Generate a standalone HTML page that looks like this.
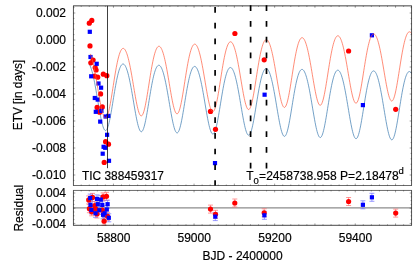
<!DOCTYPE html>
<html><head><meta charset="utf-8"><title>ETV</title>
<style>
html,body{margin:0;padding:0;background:#fff;}
svg{display:block;will-change:transform;}
text{font-family:"Liberation Sans",sans-serif;font-size:12px;fill:#000;stroke:#000;stroke-width:0.18px;}
</style></head><body>
<svg width="415" height="264" viewBox="0 0 415 264">
<rect x="0" y="0" width="415" height="264" fill="#fff"/>
<defs><clipPath id="cm"><rect x="73.45" y="5.87" width="338.10" height="179.63"/></clipPath></defs>
<g clip-path="url(#cm)" fill="none">
<path d="M89.60 64.78 L90.10 65.78 L90.60 66.96 L91.10 68.34 L91.60 69.89 L92.10 71.61 L92.60 73.51 L93.10 75.57 L93.60 77.79 L94.10 80.15 L94.60 82.65 L95.10 85.27 L95.60 87.99 L96.10 90.81 L96.60 93.69 L97.10 96.63 L97.60 99.60 L98.10 102.57 L98.60 105.52 L99.10 108.43 L99.60 111.27 L100.10 114.01 L100.60 116.62 L101.10 119.09 L101.60 121.37 L102.10 123.45 L102.60 125.30 L103.10 126.90 L103.60 128.24 L104.10 129.28 L104.60 130.03 L105.10 130.46 L105.60 130.58 L106.10 130.37 L106.60 129.84 L107.10 128.99 L107.60 127.84 L108.10 126.39 L108.60 124.66 L109.10 122.67 L109.60 120.45 L110.10 118.01 L110.60 115.39 L111.10 112.61 L111.60 109.71 L112.10 106.72 L112.60 103.66 L113.10 100.58 L113.60 97.49 L114.10 94.44 L114.60 91.44 L115.10 88.52 L115.60 85.70 L116.10 83.00 L116.60 80.45 L117.10 78.05 L117.60 75.82 L118.10 73.77 L118.60 71.90 L119.10 70.23 L119.60 68.75 L120.10 67.47 L120.60 66.39 L121.10 65.51 L121.60 64.84 L122.10 64.36 L122.60 64.08 L123.10 64.00 L123.60 64.12 L124.10 64.43 L124.60 64.93 L125.10 65.63 L125.60 66.52 L126.10 67.59 L126.60 68.86 L127.10 70.30 L127.60 71.92 L128.10 73.72 L128.60 75.68 L129.10 77.80 L129.60 80.08 L130.10 82.49 L130.60 85.04 L131.10 87.69 L131.60 90.45 L132.10 93.29 L132.60 96.20 L133.10 99.14 L133.60 102.10 L134.10 105.06 L134.60 107.99 L135.10 110.87 L135.60 113.66 L136.10 116.34 L136.60 118.89 L137.10 121.27 L137.60 123.47 L138.10 125.45 L138.60 127.19 L139.10 128.68 L139.60 129.89 L140.10 130.80 L140.60 131.41 L141.10 131.71 L141.60 131.69 L142.10 131.34 L142.60 130.68 L143.10 129.70 L143.60 128.42 L144.10 126.85 L144.60 125.01 L145.10 122.92 L145.60 120.60 L146.10 118.09 L146.60 115.40 L147.10 112.57 L147.60 109.63 L148.10 106.61 L148.60 103.55 L149.10 100.47 L149.60 97.39 L150.10 94.36 L150.60 91.40 L151.10 88.53 L151.60 85.76 L152.10 83.13 L152.60 80.65 L153.10 78.32 L153.60 76.17 L154.10 74.20 L154.60 72.41 L155.10 70.83 L155.60 69.43 L156.10 68.24 L156.60 67.25 L157.10 66.46 L157.60 65.86 L158.10 65.47 L158.60 65.28 L159.10 65.28 L159.60 65.48 L160.10 65.87 L160.60 66.46 L161.10 67.24 L161.60 68.20 L162.10 69.36 L162.60 70.69 L163.10 72.21 L163.60 73.91 L164.10 75.77 L164.60 77.80 L165.10 79.99 L165.60 82.32 L166.10 84.79 L166.60 87.38 L167.10 90.08 L167.60 92.87 L168.10 95.73 L168.60 98.65 L169.10 101.61 L169.60 104.57 L170.10 107.51 L170.60 110.42 L171.10 113.26 L171.60 116.01 L172.10 118.63 L172.60 121.11 L173.10 123.41 L173.60 125.51 L174.10 127.39 L174.60 129.03 L175.10 130.39 L175.60 131.48 L176.10 132.26 L176.60 132.74 L177.10 132.90 L177.60 132.74 L178.10 132.26 L178.60 131.46 L179.10 130.35 L179.60 128.94 L180.10 127.25 L180.60 125.30 L181.10 123.12 L181.60 120.71 L182.10 118.12 L182.60 115.37 L183.10 112.49 L183.60 109.51 L184.10 106.47 L184.60 103.40 L185.10 100.32 L185.60 97.26 L186.10 94.26 L186.60 91.33 L187.10 88.50 L187.60 85.79 L188.10 83.22 L188.60 80.80 L189.10 78.55 L189.60 76.47 L190.10 74.58 L190.60 72.88 L191.10 71.38 L191.60 70.07 L192.10 68.96 L192.60 68.05 L193.10 67.35 L193.60 66.84 L194.10 66.53 L194.60 66.42 L195.10 66.51 L195.60 66.79 L196.10 67.26 L196.60 67.93 L197.10 68.79 L197.60 69.83 L198.10 71.06 L198.60 72.48 L199.10 74.07 L199.60 75.84 L200.10 77.78 L200.60 79.87 L201.10 82.12 L201.60 84.51 L202.10 87.04 L202.60 89.68 L203.10 92.42 L203.60 95.24 L204.10 98.13 L204.60 101.07 L205.10 104.03 L205.60 106.99 L206.10 109.92 L206.60 112.80 L207.10 115.61 L207.60 118.30 L208.10 120.87 L208.60 123.28 L209.10 125.50 L209.60 127.51 L210.10 129.28 L210.60 130.81 L211.10 132.06 L211.60 133.01 L212.10 133.67 L212.60 134.01 L213.10 134.03 L213.60 133.73 L214.10 133.11 L214.60 132.18 L215.10 130.94 L215.60 129.41 L216.10 127.60 L216.60 125.54 L217.10 123.26 L217.60 120.77 L218.10 118.10 L218.60 115.29 L219.10 112.36 L219.60 109.35 L220.10 106.29 L220.60 103.20 L221.10 100.13 L221.60 97.09 L222.10 94.11 L222.60 91.22 L223.10 88.43 L223.60 85.78 L224.10 83.27 L224.60 80.92 L225.10 78.73 L225.60 76.73 L226.10 74.92 L226.60 73.30 L227.10 71.88 L227.60 70.65 L228.10 69.63 L228.60 68.81 L229.10 68.18 L229.60 67.76 L230.10 67.53 L230.60 67.51 L231.10 67.68 L231.60 68.04 L232.10 68.60 L232.60 69.35 L233.10 70.29 L233.60 71.41 L234.10 72.72 L234.60 74.22 L235.10 75.89 L235.60 77.73 L236.10 79.74 L236.60 81.90 L237.10 84.22 L237.60 86.67 L238.10 89.25 L238.60 91.94 L239.10 94.72 L239.60 97.58 L240.10 100.50 L240.60 103.45 L241.10 106.42 L241.60 109.37 L242.10 112.29 L242.60 115.15 L243.10 117.91 L243.60 120.56 L244.10 123.06 L244.60 125.40 L245.10 127.53 L245.60 129.45 L246.10 131.12 L246.60 132.53 L247.10 133.66 L247.60 134.49 L248.10 135.01 L248.60 135.22 L249.10 135.10 L249.60 134.66 L250.10 133.90 L250.60 132.83 L251.10 131.47 L251.60 129.81 L252.10 127.89 L252.60 125.73 L253.10 123.34 L253.60 120.77 L254.10 118.03 L254.60 115.16 L255.10 112.18 L255.60 109.14 L256.10 106.06 L256.60 102.96 L257.10 99.89 L257.60 96.87 L258.10 93.92 L258.60 91.06 L259.10 88.32 L259.60 85.72 L260.10 83.27 L260.60 80.99 L261.10 78.88 L261.60 76.95 L262.10 75.21 L262.60 73.67 L263.10 72.33 L263.60 71.19 L264.10 70.24 L264.60 69.50 L265.10 68.96 L265.60 68.63 L266.10 68.48 L266.60 68.54 L267.10 68.79 L267.60 69.24 L268.10 69.88 L268.60 70.71 L269.10 71.73 L269.60 72.94 L270.10 74.34 L270.60 75.91 L271.10 77.66 L271.60 79.57 L272.10 81.66 L272.60 83.89 L273.10 86.27 L273.60 88.79 L274.10 91.42 L274.60 94.16 L275.10 96.99 L275.60 99.88 L276.10 102.82 L276.60 105.79 L277.10 108.77 L277.60 111.72 L278.10 114.62 L278.60 117.45 L279.10 120.18 L279.60 122.77 L280.10 125.22 L280.60 127.47 L281.10 129.53 L281.60 131.35 L282.10 132.91 L282.60 134.21 L283.10 135.21 L283.60 135.91 L284.10 136.30 L284.60 136.37 L285.10 136.11 L285.60 135.53 L286.10 134.64 L286.60 133.43 L287.10 131.93 L287.60 130.16 L288.10 128.12 L288.60 125.85 L289.10 123.37 L289.60 120.71 L290.10 117.90 L290.60 114.97 L291.10 111.96 L291.60 108.88 L292.10 105.78 L292.60 102.68 L293.10 99.61 L293.60 96.60 L294.10 93.68 L294.60 90.86 L295.10 88.17 L295.60 85.62 L296.10 83.23 L296.60 81.01 L297.10 78.97 L297.60 77.11 L298.10 75.45 L298.60 73.99 L299.10 72.73 L299.60 71.67 L300.10 70.81 L300.60 70.15 L301.10 69.69 L301.60 69.44 L302.10 69.38 L302.60 69.52 L303.10 69.86 L303.60 70.39 L304.10 71.11 L304.60 72.03 L305.10 73.13 L305.60 74.43 L306.10 75.90 L306.60 77.55 L307.10 79.38 L307.60 81.38 L308.10 83.54 L308.60 85.85 L309.10 88.29 L309.60 90.87 L310.10 93.56 L310.60 96.35 L311.10 99.22 L311.60 102.15 L312.10 105.12 L312.60 108.11 L313.10 111.09 L313.60 114.03 L314.10 116.92 L314.60 119.72 L315.10 122.41 L315.60 124.95 L316.10 127.33 L316.60 129.51 L317.10 131.47 L317.60 133.19 L318.10 134.65 L318.60 135.83 L319.10 136.71 L319.60 137.28 L320.10 137.53 L320.60 137.46 L321.10 137.06 L321.60 136.34 L322.10 135.30 L322.60 133.97 L323.10 132.34 L323.60 130.44 L324.10 128.29 L324.60 125.91 L325.10 123.34 L325.60 120.60 L326.10 117.72 L326.60 114.73 L327.10 111.67 L327.60 108.56 L328.10 105.44 L328.60 102.34 L329.10 99.28 L329.60 96.29 L330.10 93.39 L330.60 90.61 L331.10 87.97 L331.60 85.47 L332.10 83.14 L332.60 80.98 L333.10 79.01 L333.60 77.23 L334.10 75.64 L334.60 74.26 L335.10 73.07 L335.60 72.09 L336.10 71.32 L336.60 70.74 L337.10 70.37 L337.60 70.19 L338.10 70.22 L338.60 70.44 L339.10 70.87 L339.60 71.48 L340.10 72.29 L340.60 73.29 L341.10 74.49 L341.60 75.86 L342.10 77.42 L342.60 79.16 L343.10 81.07 L343.60 83.15 L344.10 85.38 L344.60 87.77 L345.10 90.28 L345.60 92.93 L346.10 95.68 L346.60 98.52 L347.10 101.43 L347.60 104.40 L348.10 107.39 L348.60 110.39 L349.10 113.38 L349.60 116.32 L350.10 119.19 L350.60 121.96 L351.10 124.60 L351.60 127.09 L352.10 129.40 L352.60 131.50 L353.10 133.37 L353.60 134.99 L354.10 136.34 L354.60 137.40 L355.10 138.15 L355.60 138.58 L356.10 138.70 L356.60 138.48 L357.10 137.94 L357.60 137.08 L358.10 135.91 L358.60 134.43 L359.10 132.68 L359.60 130.65 L360.10 128.39 L360.60 125.91 L361.10 123.25 L361.60 120.43 L362.10 117.48 L362.60 114.43 L363.10 111.33 L363.60 108.19 L364.10 105.06 L364.60 101.95 L365.10 98.89 L365.60 95.92 L366.10 93.06 L366.60 90.31 L367.10 87.71 L367.60 85.27 L368.10 82.99 L368.60 80.90 L369.10 79.00 L369.60 77.29 L370.10 75.78 L370.60 74.47 L371.10 73.36 L371.60 72.46 L372.10 71.77 L372.60 71.27 L373.10 70.98 L373.60 70.90 L374.10 71.01 L374.60 71.32 L375.10 71.82 L375.60 72.53 L376.10 73.42 L376.60 74.51 L377.10 75.79 L377.60 77.26 L378.10 78.91 L378.60 80.73 L379.10 82.73 L379.60 84.88 L380.10 87.20 L380.60 89.66 L381.10 92.25 L381.60 94.95 L382.10 97.76 L382.60 100.66 L383.10 103.61 L383.60 106.62 L384.10 109.64 L384.60 112.66 L385.10 115.64 L385.60 118.58 L386.10 121.42 L386.60 124.16 L387.10 126.76 L387.60 129.19 L388.10 131.43 L388.60 133.45 L389.10 135.23 L389.60 136.74 L390.10 137.98 L390.60 138.91 L391.10 139.53 L391.60 139.83 L392.10 139.80 L392.60 139.45 L393.10 138.76 L393.60 137.76 L394.10 136.44 L394.60 134.83 L395.10 132.95 L395.60 130.80 L396.10 128.43 L396.60 125.84 L397.10 123.09 L397.60 120.19 L398.10 117.17 L398.60 114.07 L399.10 110.93 L399.60 107.76 L400.10 104.61 L400.60 101.50 L401.10 98.45 L401.60 95.50 L402.10 92.66 L402.60 89.96 L403.10 87.40 L403.60 85.01 L404.10 82.80 L404.60 80.77 L405.10 78.93 L405.60 77.29 L406.10 75.86 L406.60 74.63 L407.10 73.60 L407.60 72.78 L408.10 72.16 L408.60 71.75 L409.10 71.55 L409.60 71.54 L410.10 71.74 L410.60 72.14 L411.10 72.73 L411.60 73.52 L412.10 74.51" stroke="#4682b4" stroke-width="0.75"/>
</g>
<g>
<rect x="87.70" y="29.70" width="4.2" height="4.2" fill="#00f"/><circle cx="89.30" cy="23.20" r="2.6" fill="#f00"/><circle cx="91.80" cy="20.40" r="2.6" fill="#f00"/><circle cx="90.00" cy="45.90" r="2.6" fill="#f00"/><rect x="88.40" y="54.90" width="4.2" height="4.2" fill="#00f"/><circle cx="93.10" cy="60.00" r="2.6" fill="#f00"/><circle cx="90.80" cy="62.80" r="2.6" fill="#f00"/><circle cx="95.20" cy="67.50" r="2.6" fill="#f00"/><circle cx="96.10" cy="70.00" r="2.6" fill="#f00"/><rect x="94.60" y="61.70" width="4.2" height="4.2" fill="#00f"/><circle cx="94.60" cy="76.10" r="2.6" fill="#f00"/><circle cx="97.70" cy="77.20" r="2.6" fill="#f00"/><rect x="89.10" y="74.20" width="4.2" height="4.2" fill="#00f"/><circle cx="103.30" cy="74.20" r="2.6" fill="#f00"/><circle cx="106.80" cy="75.70" r="2.6" fill="#f00"/><rect x="96.40" y="81.40" width="4.2" height="4.2" fill="#00f"/><rect x="99.00" y="85.60" width="4.2" height="4.2" fill="#00f"/><circle cx="100.60" cy="93.90" r="2.6" fill="#f00"/><rect x="92.70" y="95.90" width="4.2" height="4.2" fill="#00f"/><rect x="95.60" y="97.50" width="4.2" height="4.2" fill="#00f"/><circle cx="97.10" cy="107.40" r="2.6" fill="#f00"/><circle cx="102.30" cy="106.90" r="2.6" fill="#f00"/><circle cx="99.60" cy="112.20" r="2.6" fill="#f00"/><rect x="93.70" y="109.70" width="4.2" height="4.2" fill="#00f"/><rect x="99.30" y="108.80" width="4.2" height="4.2" fill="#00f"/><rect x="103.50" y="114.40" width="4.2" height="4.2" fill="#00f"/><rect x="106.20" y="113.80" width="4.2" height="4.2" fill="#00f"/><rect x="98.10" y="119.50" width="4.2" height="4.2" fill="#00f"/><rect x="105.00" y="132.70" width="4.2" height="4.2" fill="#00f"/><circle cx="105.60" cy="141.70" r="2.6" fill="#f00"/><circle cx="108.50" cy="144.20" r="2.6" fill="#f00"/><rect x="101.50" y="144.70" width="4.2" height="4.2" fill="#00f"/><rect x="103.10" y="145.70" width="4.2" height="4.2" fill="#00f"/><rect x="100.60" y="151.60" width="4.2" height="4.2" fill="#00f"/><circle cx="104.20" cy="162.40" r="2.6" fill="#f00"/><rect x="106.90" y="158.70" width="4.2" height="4.2" fill="#00f"/><circle cx="210.50" cy="111.40" r="2.6" fill="#f00"/><circle cx="215.50" cy="129.30" r="2.6" fill="#f00"/><rect x="212.90" y="161.00" width="4.2" height="4.2" fill="#00f"/><circle cx="234.90" cy="33.50" r="2.6" fill="#f00"/><circle cx="264.20" cy="59.80" r="2.6" fill="#f00"/><rect x="262.50" y="92.60" width="4.2" height="4.2" fill="#00f"/><circle cx="348.60" cy="51.00" r="2.6" fill="#f00"/><rect x="369.80" y="33.20" width="4.2" height="4.2" fill="#00f"/><rect x="360.80" y="103.00" width="4.2" height="4.2" fill="#00f"/><circle cx="395.70" cy="109.30" r="2.6" fill="#f00"/>
</g>
<g clip-path="url(#cm)" fill="none">
<path d="M90.30 53.86 L90.80 55.10 L91.30 56.52 L91.80 58.12 L92.30 59.91 L92.80 61.86 L93.30 63.98 L93.80 66.25 L94.30 68.66 L94.80 71.21 L95.30 73.88 L95.80 76.65 L96.30 79.50 L96.80 82.42 L97.30 85.38 L97.80 88.36 L98.30 91.34 L98.80 94.29 L99.30 97.19 L99.80 100.00 L100.30 102.70 L100.80 105.26 L101.30 107.65 L101.80 109.86 L102.30 111.84 L102.80 113.59 L103.30 115.07 L103.80 116.27 L104.30 117.17 L104.80 117.75 L105.30 118.02 L105.80 117.96 L106.30 117.57 L106.80 116.85 L107.30 115.82 L107.80 114.47 L108.30 112.83 L108.80 110.91 L109.30 108.73 L109.80 106.32 L110.30 103.71 L110.80 100.92 L111.30 97.98 L111.80 94.93 L112.30 91.80 L112.80 88.62 L113.30 85.42 L113.80 82.23 L114.30 79.09 L114.80 76.00 L115.30 73.01 L115.80 70.14 L116.30 67.39 L116.80 64.80 L117.30 62.37 L117.80 60.12 L118.30 58.05 L118.80 56.17 L119.30 54.49 L119.80 53.02 L120.30 51.74 L120.80 50.67 L121.30 49.81 L121.80 49.15 L122.30 48.70 L122.80 48.45 L123.30 48.40 L123.80 48.55 L124.30 48.90 L124.80 49.44 L125.30 50.18 L125.80 51.12 L126.30 52.25 L126.80 53.56 L127.30 55.07 L127.80 56.75 L128.30 58.60 L128.80 60.63 L129.30 62.81 L129.80 65.15 L130.30 67.62 L130.80 70.22 L131.30 72.94 L131.80 75.74 L132.30 78.63 L132.80 81.57 L133.30 84.54 L133.80 87.53 L134.30 90.49 L134.80 93.42 L135.30 96.28 L135.80 99.05 L136.30 101.69 L136.80 104.19 L137.30 106.50 L137.80 108.62 L138.30 110.50 L138.80 112.13 L139.30 113.50 L139.80 114.57 L140.30 115.33 L140.80 115.79 L141.30 115.91 L141.80 115.71 L142.30 115.18 L142.80 114.33 L143.30 113.15 L143.80 111.68 L144.30 109.91 L144.80 107.88 L145.30 105.60 L145.80 103.10 L146.30 100.41 L146.80 97.55 L147.30 94.56 L147.80 91.47 L148.30 88.32 L148.80 85.12 L149.30 81.93 L149.80 78.75 L150.30 75.63 L150.80 72.58 L151.30 69.64 L151.80 66.82 L152.30 64.14 L152.80 61.61 L153.30 59.26 L153.80 57.08 L154.30 55.10 L154.80 53.30 L155.30 51.71 L155.80 50.32 L156.30 49.14 L156.80 48.16 L157.30 47.38 L157.80 46.81 L158.30 46.44 L158.80 46.28 L159.30 46.31 L159.80 46.55 L160.30 46.98 L160.80 47.62 L161.30 48.44 L161.80 49.46 L162.30 50.67 L162.80 52.07 L163.30 53.64 L163.80 55.40 L164.30 57.33 L164.80 59.43 L165.30 61.68 L165.80 64.07 L166.30 66.60 L166.80 69.26 L167.30 72.01 L167.80 74.85 L168.30 77.76 L168.80 80.72 L169.30 83.70 L169.80 86.68 L170.30 89.64 L170.80 92.54 L171.30 95.37 L171.80 98.08 L172.30 100.67 L172.80 103.09 L173.30 105.32 L173.80 107.33 L174.30 109.11 L174.80 110.63 L175.30 111.87 L175.80 112.81 L176.30 113.45 L176.80 113.76 L177.30 113.74 L177.80 113.40 L178.30 112.73 L178.80 111.74 L179.30 110.43 L179.80 108.83 L180.30 106.95 L180.80 104.81 L181.30 102.43 L181.80 99.84 L182.30 97.07 L182.80 94.16 L183.30 91.12 L183.80 88.00 L184.30 84.82 L184.80 81.63 L185.30 78.43 L185.80 75.28 L186.30 72.19 L186.80 69.18 L187.30 66.29 L187.80 63.53 L188.30 60.91 L188.80 58.46 L189.30 56.18 L189.80 54.08 L190.30 52.18 L190.80 50.47 L191.30 48.97 L191.80 47.66 L192.30 46.57 L192.80 45.67 L193.30 44.99 L193.80 44.50 L194.30 44.22 L194.80 44.15 L195.30 44.26 L195.80 44.58 L196.30 45.10 L196.80 45.81 L197.30 46.72 L197.80 47.82 L198.30 49.10 L198.80 50.58 L199.30 52.23 L199.80 54.06 L200.30 56.06 L200.80 58.22 L201.30 60.54 L201.80 62.99 L202.30 65.58 L202.80 68.27 L203.30 71.07 L203.80 73.94 L204.30 76.88 L204.80 79.85 L205.30 82.83 L205.80 85.81 L206.30 88.75 L206.80 91.62 L207.30 94.41 L207.80 97.07 L208.30 99.59 L208.80 101.93 L209.30 104.08 L209.80 106.00 L210.30 107.67 L210.80 109.07 L211.30 110.19 L211.80 111.00 L212.30 111.50 L212.80 111.67 L213.30 111.51 L213.80 111.03 L214.30 110.22 L214.80 109.09 L215.30 107.65 L215.80 105.92 L216.30 103.92 L216.80 101.67 L217.30 99.19 L217.80 96.52 L218.30 93.68 L218.80 90.70 L219.30 87.61 L219.80 84.45 L220.30 81.26 L220.80 78.05 L221.30 74.86 L221.80 71.72 L222.30 68.65 L222.80 65.68 L223.30 62.83 L223.80 60.12 L224.30 57.56 L224.80 55.17 L225.30 52.96 L225.80 50.94 L226.30 49.11 L226.80 47.48 L227.30 46.06 L227.80 44.84 L228.30 43.82 L228.80 43.01 L229.30 42.41 L229.80 42.01 L230.30 41.81 L230.80 41.82 L231.30 42.02 L231.80 42.43 L232.30 43.03 L232.80 43.83 L233.30 44.82 L233.80 46.01 L234.30 47.38 L234.80 48.94 L235.30 50.67 L235.80 52.58 L236.30 54.66 L236.80 56.90 L237.30 59.28 L237.80 61.80 L238.30 64.45 L238.80 67.20 L239.30 70.04 L239.80 72.95 L240.30 75.91 L240.80 78.90 L241.30 81.90 L241.80 84.87 L242.30 87.80 L242.80 90.64 L243.30 93.39 L243.80 96.00 L244.30 98.46 L244.80 100.73 L245.30 102.79 L245.80 104.61 L246.30 106.17 L246.80 107.46 L247.30 108.45 L247.80 109.13 L248.30 109.49 L248.80 109.52 L249.30 109.22 L249.80 108.59 L250.30 107.64 L250.80 106.38 L251.30 104.81 L251.80 102.95 L252.30 100.84 L252.80 98.48 L253.30 95.91 L253.80 93.15 L254.30 90.24 L254.80 87.21 L255.30 84.08 L255.80 80.90 L256.30 77.69 L256.80 74.48 L257.30 71.31 L257.80 68.19 L258.30 65.16 L258.80 62.24 L259.30 59.45 L259.80 56.80 L260.30 54.31 L260.80 52.00 L261.30 49.87 L261.80 47.94 L262.30 46.20 L262.80 44.66 L263.30 43.33 L263.80 42.20 L264.30 41.28 L264.80 40.56 L265.30 40.05 L265.80 39.74 L266.30 39.64 L266.80 39.74 L267.30 40.03 L267.80 40.53 L268.30 41.22 L268.80 42.11 L269.30 43.19 L269.80 44.46 L270.30 45.92 L270.80 47.56 L271.30 49.37 L271.80 51.36 L272.30 53.51 L272.80 55.82 L273.30 58.26 L273.80 60.84 L274.30 63.53 L274.80 66.33 L275.30 69.20 L275.80 72.14 L276.30 75.12 L276.80 78.11 L277.30 81.10 L277.80 84.05 L278.30 86.94 L278.80 89.75 L279.30 92.44 L279.80 94.98 L280.30 97.36 L280.80 99.54 L281.30 101.49 L281.80 103.20 L282.30 104.65 L282.80 105.80 L283.30 106.66 L283.80 107.20 L284.30 107.42 L284.80 107.31 L285.30 106.87 L285.80 106.11 L286.30 105.02 L286.80 103.62 L287.30 101.94 L287.80 99.97 L288.30 97.75 L288.80 95.31 L289.30 92.66 L289.80 89.84 L290.30 86.88 L290.80 83.81 L291.30 80.66 L291.80 77.47 L292.30 74.27 L292.80 71.08 L293.30 67.93 L293.80 64.86 L294.30 61.88 L294.80 59.02 L295.30 56.30 L295.80 53.72 L296.30 51.32 L296.80 49.09 L297.30 47.05 L297.80 45.20 L298.30 43.55 L298.80 42.10 L299.30 40.86 L299.80 39.83 L300.30 38.99 L300.80 38.37 L301.30 37.95 L301.80 37.73 L302.30 37.71 L302.80 37.89 L303.30 38.27 L303.80 38.85 L304.30 39.63 L304.80 40.60 L305.30 41.76 L305.80 43.10 L306.30 44.64 L306.80 46.35 L307.30 48.23 L307.80 50.29 L308.30 52.50 L308.80 54.86 L309.30 57.36 L309.80 59.98 L310.30 62.71 L310.80 65.54 L311.30 68.43 L311.80 71.38 L312.30 74.36 L312.80 77.35 L313.30 80.31 L313.80 83.24 L314.30 86.09 L314.80 88.84 L315.30 91.46 L315.80 93.93 L316.30 96.22 L316.80 98.30 L317.30 100.15 L317.80 101.75 L318.30 103.06 L318.80 104.09 L319.30 104.81 L319.80 105.22 L320.30 105.29 L320.80 105.04 L321.30 104.46 L321.80 103.56 L322.30 102.34 L322.80 100.82 L323.30 99.02 L323.80 96.95 L324.30 94.63 L324.80 92.10 L325.30 89.39 L325.80 86.51 L326.30 83.51 L326.80 80.41 L327.30 77.25 L327.80 74.06 L328.30 70.87 L328.80 67.70 L329.30 64.60 L329.80 61.57 L330.30 58.65 L330.80 55.85 L331.30 53.20 L331.80 50.71 L332.30 48.38 L332.80 46.24 L333.30 44.29 L333.80 42.53 L334.30 40.98 L334.80 39.62 L335.30 38.48 L335.80 37.53 L336.30 36.79 L336.80 36.26 L337.30 35.92 L337.80 35.79 L338.30 35.86 L338.80 36.13 L339.30 36.60 L339.80 37.26 L340.30 38.12 L340.80 39.17 L341.30 40.40 L341.80 41.83 L342.30 43.43 L342.80 45.22 L343.30 47.17 L343.80 49.29 L344.30 51.56 L344.80 53.97 L345.30 56.52 L345.80 59.18 L346.30 61.94 L346.80 64.79 L347.30 67.70 L347.80 70.66 L348.30 73.63 L348.80 76.60 L349.30 79.54 L349.80 82.43 L350.30 85.23 L350.80 87.92 L351.30 90.47 L351.80 92.86 L352.30 95.05 L352.80 97.03 L353.30 98.76 L353.80 100.24 L354.30 101.43 L354.80 102.32 L355.30 102.90 L355.80 103.17 L356.30 103.10 L356.80 102.71 L357.30 102.00 L357.80 100.96 L358.30 99.62 L358.80 97.98 L359.30 96.06 L359.80 93.89 L360.30 91.49 L360.80 88.89 L361.30 86.11 L361.80 83.19 L362.30 80.15 L362.80 77.04 L363.30 73.87 L363.80 70.69 L364.30 67.52 L364.80 64.39 L365.30 61.32 L365.80 58.35 L366.30 55.49 L366.80 52.77 L367.30 50.19 L367.80 47.78 L368.30 45.54 L368.80 43.49 L369.30 41.63 L369.80 39.96 L370.30 38.50 L370.80 37.24 L371.30 36.18 L371.80 35.33 L372.30 34.68 L372.80 34.23 L373.30 33.99 L373.80 33.94 L374.30 34.09 L374.80 34.44 L375.30 34.99 L375.80 35.73 L376.30 36.66 L376.80 37.78 L377.30 39.09 L377.80 40.59 L378.30 42.26 L378.80 44.11 L379.30 46.12 L379.80 48.29 L380.30 50.62 L380.80 53.08 L381.30 55.67 L381.80 58.36 L382.30 61.16 L382.80 64.02 L383.30 66.95 L383.80 69.90 L384.30 72.87 L384.80 75.82 L385.30 78.73 L385.80 81.58 L386.30 84.32 L386.80 86.95 L387.30 89.43 L387.80 91.73 L388.30 93.83 L388.80 95.70 L389.30 97.32 L389.80 98.67 L390.30 99.73 L390.80 100.49 L391.30 100.93 L391.80 101.06 L392.30 100.85 L392.80 100.32 L393.30 99.47 L393.80 98.30 L394.30 96.83 L394.80 95.07 L395.30 93.05 L395.80 90.78 L396.30 88.29 L396.80 85.61 L397.30 82.77 L397.80 79.80 L398.30 76.73 L398.80 73.59 L399.30 70.41 L399.80 67.23 L400.30 64.08 L400.80 60.98 L401.30 57.95 L401.80 55.02 L402.30 52.22 L402.80 49.56 L403.30 47.05 L403.80 44.71 L404.30 42.55 L404.80 40.57 L405.30 38.79 L405.80 37.21 L406.30 35.83 L406.80 34.65 L407.30 33.68 L407.80 32.91 L408.30 32.35 L408.80 31.98 L409.30 31.82 L409.80 31.86 L410.30 32.10 L410.80 32.53 L411.30 33.16 L411.80 33.98 L412.30 35.00" stroke="#ff5a3c" stroke-width="0.7"/>
</g>
<line x1="107.5" y1="5.87" x2="107.5" y2="168.2" stroke="#000" stroke-width="0.75"/>
<line x1="215.1" y1="7.1" x2="215.1" y2="185.5" stroke="#000" stroke-width="1.7" stroke-dasharray="5.7 10.03"/>
<line x1="250.6" y1="5.35" x2="250.6" y2="169" stroke="#000" stroke-width="1.7" stroke-dasharray="5.7 10.05"/>
<line x1="266.5" y1="5.35" x2="266.5" y2="169" stroke="#000" stroke-width="1.7" stroke-dasharray="5.7 10.05"/>
<line x1="73.45" y1="207.9" x2="411.55" y2="207.9" stroke="#8c8c8c" stroke-width="1.3"/>
<path d="M106.50 192.30V200.30M104.00 192.30h5M104.00 200.30h5" stroke="#ff6a6a" stroke-width="0.7" fill="none"/><path d="M103.10 192.90V200.90M100.60 192.90h5M100.60 200.90h5" stroke="#ff6a6a" stroke-width="0.7" fill="none"/><path d="M88.70 195.90V203.90M86.20 195.90h5M86.20 203.90h5" stroke="#ff6a6a" stroke-width="0.7" fill="none"/><path d="M92.50 193.40V201.40M90.00 193.40h5M90.00 201.40h5" stroke="#ff6a6a" stroke-width="0.7" fill="none"/><path d="M94.70 201.70V209.70M92.20 201.70h5M92.20 209.70h5" stroke="#ff6a6a" stroke-width="0.7" fill="none"/><path d="M97.00 210.00V218.00M94.50 210.00h5M94.50 218.00h5" stroke="#ff6a6a" stroke-width="0.7" fill="none"/><path d="M104.10 217.20V225.20M101.60 217.20h5M101.60 225.20h5" stroke="#ff6a6a" stroke-width="0.7" fill="none"/><path d="M89.40 204.70V212.70M86.90 204.70h5M86.90 212.70h5" stroke="#ff6a6a" stroke-width="0.7" fill="none"/><path d="M95.60 204.90V212.90M93.10 204.90h5M93.10 212.90h5" stroke="#ff6a6a" stroke-width="0.7" fill="none"/><path d="M102.30 206.20V214.20M99.80 206.20h5M99.80 214.20h5" stroke="#ff6a6a" stroke-width="0.7" fill="none"/><path d="M107.60 212.30V220.30M105.10 212.30h5M105.10 220.30h5" stroke="#ff6a6a" stroke-width="0.7" fill="none"/><path d="M91.70 207.80V215.80M89.20 207.80h5M89.20 215.80h5" stroke="#ff6a6a" stroke-width="0.7" fill="none"/><path d="M90.20 194.10V202.10M87.70 194.10h5M87.70 202.10h5" stroke="#7070ff" stroke-width="0.7" fill="none"/><path d="M97.00 194.90V202.90M94.50 194.90h5M94.50 202.90h5" stroke="#7070ff" stroke-width="0.7" fill="none"/><path d="M100.80 195.60V203.60M98.30 195.60h5M98.30 203.60h5" stroke="#7070ff" stroke-width="0.7" fill="none"/><path d="M90.50 200.90V208.90M88.00 200.90h5M88.00 208.90h5" stroke="#7070ff" stroke-width="0.7" fill="none"/><path d="M97.80 200.20V208.20M95.30 200.20h5M95.30 208.20h5" stroke="#7070ff" stroke-width="0.7" fill="none"/><path d="M102.30 200.90V208.90M99.80 200.90h5M99.80 208.90h5" stroke="#7070ff" stroke-width="0.7" fill="none"/><path d="M107.60 200.20V208.20M105.10 200.20h5M105.10 208.20h5" stroke="#7070ff" stroke-width="0.7" fill="none"/><path d="M91.40 205.90V213.90M88.90 205.90h5M88.90 213.90h5" stroke="#7070ff" stroke-width="0.7" fill="none"/><path d="M99.30 206.20V214.20M96.80 206.20h5M96.80 214.20h5" stroke="#7070ff" stroke-width="0.7" fill="none"/><path d="M106.80 205.50V213.50M104.30 205.50h5M104.30 213.50h5" stroke="#7070ff" stroke-width="0.7" fill="none"/><path d="M95.50 209.30V217.30M93.00 209.30h5M93.00 217.30h5" stroke="#7070ff" stroke-width="0.7" fill="none"/><path d="M103.10 210.80V218.80M100.60 210.80h5M100.60 218.80h5" stroke="#7070ff" stroke-width="0.7" fill="none"/><path d="M104.60 209.30V217.30M102.10 209.30h5M102.10 217.30h5" stroke="#7070ff" stroke-width="0.7" fill="none"/><path d="M108.80 213.80V221.80M106.30 213.80h5M106.30 221.80h5" stroke="#7070ff" stroke-width="0.7" fill="none"/><path d="M210.50 205.10V213.10M208.00 205.10h5M208.00 213.10h5" stroke="#ff6a6a" stroke-width="0.7" fill="none"/><path d="M215.50 210.30V218.30M213.00 210.30h5M213.00 218.30h5" stroke="#ff6a6a" stroke-width="0.7" fill="none"/><path d="M215.30 212.60V220.60M212.80 212.60h5M212.80 220.60h5" stroke="#7070ff" stroke-width="0.7" fill="none"/><path d="M234.80 199.00V207.00M232.30 199.00h5M232.30 207.00h5" stroke="#ff6a6a" stroke-width="0.7" fill="none"/><path d="M264.20 208.80V216.80M261.70 208.80h5M261.70 216.80h5" stroke="#ff6a6a" stroke-width="0.7" fill="none"/><path d="M264.40 211.30V219.30M261.90 211.30h5M261.90 219.30h5" stroke="#7070ff" stroke-width="0.7" fill="none"/><path d="M348.60 197.50V205.50M346.10 197.50h5M346.10 205.50h5" stroke="#ff6a6a" stroke-width="0.7" fill="none"/><path d="M362.90 200.80V208.80M360.40 200.80h5M360.40 208.80h5" stroke="#7070ff" stroke-width="0.7" fill="none"/><path d="M371.90 193.30V201.30M369.40 193.30h5M369.40 201.30h5" stroke="#7070ff" stroke-width="0.7" fill="none"/><path d="M395.70 209.10V217.10M393.20 209.10h5M393.20 217.10h5" stroke="#ff6a6a" stroke-width="0.7" fill="none"/>
<g>
<circle cx="106.50" cy="196.30" r="2.6" fill="#f00"/><circle cx="103.10" cy="196.90" r="2.6" fill="#f00"/><circle cx="88.70" cy="199.90" r="2.6" fill="#f00"/><circle cx="92.50" cy="197.40" r="2.6" fill="#f00"/><circle cx="94.70" cy="205.70" r="2.6" fill="#f00"/><circle cx="97.00" cy="214.00" r="2.6" fill="#f00"/><circle cx="104.10" cy="221.20" r="2.6" fill="#f00"/><circle cx="89.40" cy="208.70" r="2.6" fill="#f00"/><circle cx="95.60" cy="208.90" r="2.6" fill="#f00"/><circle cx="102.30" cy="210.20" r="2.6" fill="#f00"/><circle cx="107.60" cy="216.30" r="2.6" fill="#f00"/><circle cx="91.70" cy="211.80" r="2.6" fill="#f00"/><rect x="88.10" y="196.00" width="4.2" height="4.2" fill="#00f"/><rect x="94.90" y="196.80" width="4.2" height="4.2" fill="#00f"/><rect x="98.70" y="197.50" width="4.2" height="4.2" fill="#00f"/><rect x="88.40" y="202.80" width="4.2" height="4.2" fill="#00f"/><rect x="95.70" y="202.10" width="4.2" height="4.2" fill="#00f"/><rect x="100.20" y="202.80" width="4.2" height="4.2" fill="#00f"/><rect x="105.50" y="202.10" width="4.2" height="4.2" fill="#00f"/><rect x="89.30" y="207.80" width="4.2" height="4.2" fill="#00f"/><rect x="97.20" y="208.10" width="4.2" height="4.2" fill="#00f"/><rect x="104.70" y="207.40" width="4.2" height="4.2" fill="#00f"/><rect x="93.40" y="211.20" width="4.2" height="4.2" fill="#00f"/><rect x="101.00" y="212.70" width="4.2" height="4.2" fill="#00f"/><rect x="102.50" y="211.20" width="4.2" height="4.2" fill="#00f"/><rect x="106.70" y="215.70" width="4.2" height="4.2" fill="#00f"/><circle cx="210.50" cy="209.10" r="2.6" fill="#f00"/><circle cx="215.50" cy="214.30" r="2.6" fill="#f00"/><rect x="213.20" y="214.50" width="4.2" height="4.2" fill="#00f"/><circle cx="234.80" cy="203.00" r="2.6" fill="#f00"/><circle cx="264.20" cy="212.80" r="2.6" fill="#f00"/><rect x="262.30" y="213.20" width="4.2" height="4.2" fill="#00f"/><circle cx="348.60" cy="201.50" r="2.6" fill="#f00"/><rect x="360.80" y="202.70" width="4.2" height="4.2" fill="#00f"/><rect x="369.80" y="195.20" width="4.2" height="4.2" fill="#00f"/><circle cx="395.70" cy="213.10" r="2.6" fill="#f00"/>
</g>
<line x1="73.12" y1="5.87" x2="411.88" y2="5.87" stroke="#000" stroke-width="0.75"/>
<line x1="73.12" y1="185.50" x2="411.88" y2="185.50" stroke="#000" stroke-width="0.58"/>
<line x1="73.12" y1="190.45" x2="411.88" y2="190.45" stroke="#000" stroke-width="0.58"/>
<line x1="73.12" y1="225.30" x2="411.88" y2="225.30" stroke="#000" stroke-width="0.72"/>
<line x1="73.45" y1="5.87" x2="73.45" y2="185.50" stroke="#000" stroke-width="0.67"/>
<line x1="411.55" y1="5.87" x2="411.55" y2="185.50" stroke="#000" stroke-width="0.67"/>
<line x1="73.45" y1="190.45" x2="73.45" y2="225.30" stroke="#000" stroke-width="0.67"/>
<line x1="411.55" y1="190.45" x2="411.55" y2="225.30" stroke="#000" stroke-width="0.67"/>
<path d="M81.21 5.87v1.00M81.21 185.50v-1.00M81.21 190.45v1.00M81.21 225.30v-1.00M89.27 5.87v1.00M89.27 185.50v-1.00M89.27 190.45v1.00M89.27 225.30v-1.00M97.33 5.87v1.00M97.33 185.50v-1.00M97.33 190.45v1.00M97.33 225.30v-1.00M105.39 5.87v1.00M105.39 185.50v-1.00M105.39 190.45v1.00M105.39 225.30v-1.00M113.45 5.87v1.90M113.45 185.50v-1.90M113.45 190.45v1.90M113.45 225.30v-1.90M121.51 5.87v1.00M121.51 185.50v-1.00M121.51 190.45v1.00M121.51 225.30v-1.00M129.57 5.87v1.00M129.57 185.50v-1.00M129.57 190.45v1.00M129.57 225.30v-1.00M137.63 5.87v1.00M137.63 185.50v-1.00M137.63 190.45v1.00M137.63 225.30v-1.00M145.69 5.87v1.00M145.69 185.50v-1.00M145.69 190.45v1.00M145.69 225.30v-1.00M153.75 5.87v1.90M153.75 185.50v-1.90M153.75 190.45v1.90M153.75 225.30v-1.90M161.81 5.87v1.00M161.81 185.50v-1.00M161.81 190.45v1.00M161.81 225.30v-1.00M169.87 5.87v1.00M169.87 185.50v-1.00M169.87 190.45v1.00M169.87 225.30v-1.00M177.93 5.87v1.00M177.93 185.50v-1.00M177.93 190.45v1.00M177.93 225.30v-1.00M185.99 5.87v1.00M185.99 185.50v-1.00M185.99 190.45v1.00M185.99 225.30v-1.00M194.05 5.87v1.90M194.05 185.50v-1.90M194.05 190.45v1.90M194.05 225.30v-1.90M202.11 5.87v1.00M202.11 185.50v-1.00M202.11 190.45v1.00M202.11 225.30v-1.00M210.17 5.87v1.00M210.17 185.50v-1.00M210.17 190.45v1.00M210.17 225.30v-1.00M218.23 5.87v1.00M218.23 185.50v-1.00M218.23 190.45v1.00M218.23 225.30v-1.00M226.29 5.87v1.00M226.29 185.50v-1.00M226.29 190.45v1.00M226.29 225.30v-1.00M234.35 5.87v1.90M234.35 185.50v-1.90M234.35 190.45v1.90M234.35 225.30v-1.90M242.41 5.87v1.00M242.41 185.50v-1.00M242.41 190.45v1.00M242.41 225.30v-1.00M250.47 5.87v1.00M250.47 185.50v-1.00M250.47 190.45v1.00M250.47 225.30v-1.00M258.53 5.87v1.00M258.53 185.50v-1.00M258.53 190.45v1.00M258.53 225.30v-1.00M266.59 5.87v1.00M266.59 185.50v-1.00M266.59 190.45v1.00M266.59 225.30v-1.00M274.65 5.87v1.90M274.65 185.50v-1.90M274.65 190.45v1.90M274.65 225.30v-1.90M282.71 5.87v1.00M282.71 185.50v-1.00M282.71 190.45v1.00M282.71 225.30v-1.00M290.77 5.87v1.00M290.77 185.50v-1.00M290.77 190.45v1.00M290.77 225.30v-1.00M298.83 5.87v1.00M298.83 185.50v-1.00M298.83 190.45v1.00M298.83 225.30v-1.00M306.89 5.87v1.00M306.89 185.50v-1.00M306.89 190.45v1.00M306.89 225.30v-1.00M314.95 5.87v1.90M314.95 185.50v-1.90M314.95 190.45v1.90M314.95 225.30v-1.90M323.01 5.87v1.00M323.01 185.50v-1.00M323.01 190.45v1.00M323.01 225.30v-1.00M331.07 5.87v1.00M331.07 185.50v-1.00M331.07 190.45v1.00M331.07 225.30v-1.00M339.13 5.87v1.00M339.13 185.50v-1.00M339.13 190.45v1.00M339.13 225.30v-1.00M347.19 5.87v1.00M347.19 185.50v-1.00M347.19 190.45v1.00M347.19 225.30v-1.00M355.25 5.87v1.90M355.25 185.50v-1.90M355.25 190.45v1.90M355.25 225.30v-1.90M363.31 5.87v1.00M363.31 185.50v-1.00M363.31 190.45v1.00M363.31 225.30v-1.00M371.37 5.87v1.00M371.37 185.50v-1.00M371.37 190.45v1.00M371.37 225.30v-1.00M379.43 5.87v1.00M379.43 185.50v-1.00M379.43 190.45v1.00M379.43 225.30v-1.00M387.49 5.87v1.00M387.49 185.50v-1.00M387.49 190.45v1.00M387.49 225.30v-1.00M395.55 5.87v1.90M395.55 185.50v-1.90M395.55 190.45v1.90M395.55 225.30v-1.90M403.61 5.87v1.00M403.61 185.50v-1.00M403.61 190.45v1.00M403.61 225.30v-1.00M73.45 180.40h1.00M411.55 180.40h-1.00M73.45 175.00h1.90M411.55 175.00h-1.90M73.45 169.60h1.00M411.55 169.60h-1.00M73.45 164.20h1.00M411.55 164.20h-1.00M73.45 158.80h1.00M411.55 158.80h-1.00M73.45 153.40h1.00M411.55 153.40h-1.00M73.45 148.00h1.90M411.55 148.00h-1.90M73.45 142.60h1.00M411.55 142.60h-1.00M73.45 137.20h1.00M411.55 137.20h-1.00M73.45 131.80h1.00M411.55 131.80h-1.00M73.45 126.40h1.00M411.55 126.40h-1.00M73.45 121.00h1.90M411.55 121.00h-1.90M73.45 115.60h1.00M411.55 115.60h-1.00M73.45 110.20h1.00M411.55 110.20h-1.00M73.45 104.80h1.00M411.55 104.80h-1.00M73.45 99.40h1.00M411.55 99.40h-1.00M73.45 94.00h1.90M411.55 94.00h-1.90M73.45 88.60h1.00M411.55 88.60h-1.00M73.45 83.20h1.00M411.55 83.20h-1.00M73.45 77.80h1.00M411.55 77.80h-1.00M73.45 72.40h1.00M411.55 72.40h-1.00M73.45 67.00h1.90M411.55 67.00h-1.90M73.45 61.60h1.00M411.55 61.60h-1.00M73.45 56.20h1.00M411.55 56.20h-1.00M73.45 50.80h1.00M411.55 50.80h-1.00M73.45 45.40h1.00M411.55 45.40h-1.00M73.45 40.00h1.90M411.55 40.00h-1.90M73.45 34.60h1.00M411.55 34.60h-1.00M73.45 29.20h1.00M411.55 29.20h-1.00M73.45 23.80h1.00M411.55 23.80h-1.00M73.45 18.40h1.00M411.55 18.40h-1.00M73.45 13.00h1.90M411.55 13.00h-1.90M73.45 7.60h1.00M411.55 7.60h-1.00M73.45 223.40h1.90M411.55 223.40h-1.90M73.45 219.60h1.00M411.55 219.60h-1.00M73.45 215.80h1.00M411.55 215.80h-1.00M73.45 212.00h1.00M411.55 212.00h-1.00M73.45 208.20h1.90M411.55 208.20h-1.90M73.45 204.40h1.00M411.55 204.40h-1.00M73.45 200.60h1.00M411.55 200.60h-1.00M73.45 196.80h1.00M411.55 196.80h-1.00M73.45 193.00h1.90M411.55 193.00h-1.90" stroke="#000" stroke-width="0.38" fill="none"/>
<text x="66" y="17.3" text-anchor="end">0.002</text>
<text x="66" y="44.3" text-anchor="end">0.000</text>
<text x="66" y="71.3" text-anchor="end">-0.002</text>
<text x="66" y="98.3" text-anchor="end">-0.004</text>
<text x="66" y="125.3" text-anchor="end">-0.006</text>
<text x="66" y="152.3" text-anchor="end">-0.008</text>
<text x="66" y="179.3" text-anchor="end">-0.010</text>
<text x="66" y="197.3" text-anchor="end">0.004</text>
<text x="66" y="212.5" text-anchor="end">0.000</text>
<text x="66" y="227.7" text-anchor="end">-0.004</text>
<text x="113.7" y="241.6" text-anchor="middle">58800</text>
<text x="194.2" y="241.6" text-anchor="middle">59000</text>
<text x="274.9" y="241.6" text-anchor="middle">59200</text>
<text x="355.4" y="241.6" text-anchor="middle">59400</text>
<text x="242.6" y="259.7" text-anchor="middle">BJD - 2400000</text>
<text transform="translate(21.8,130.2) rotate(-90)" textLength="70.3" lengthAdjust="spacingAndGlyphs">ETV [in days]</text>
<text transform="translate(22.7,208.2) rotate(-90)" text-anchor="middle">Residual</text>
<text x="82.0" y="180.1" textLength="81.9" lengthAdjust="spacingAndGlyphs">TIC 388459317</text>
<text x="246.3" y="180.1">T</text><text x="253.5" y="183.6" style="font-size:9.5px">0</text><text x="259.1" y="180.1" textLength="139.7" lengthAdjust="spacingAndGlyphs">=2458738.958 P=2.18478</text><text x="398.6" y="174.1" style="font-size:9.5px">d</text>
</svg>
</body></html>
